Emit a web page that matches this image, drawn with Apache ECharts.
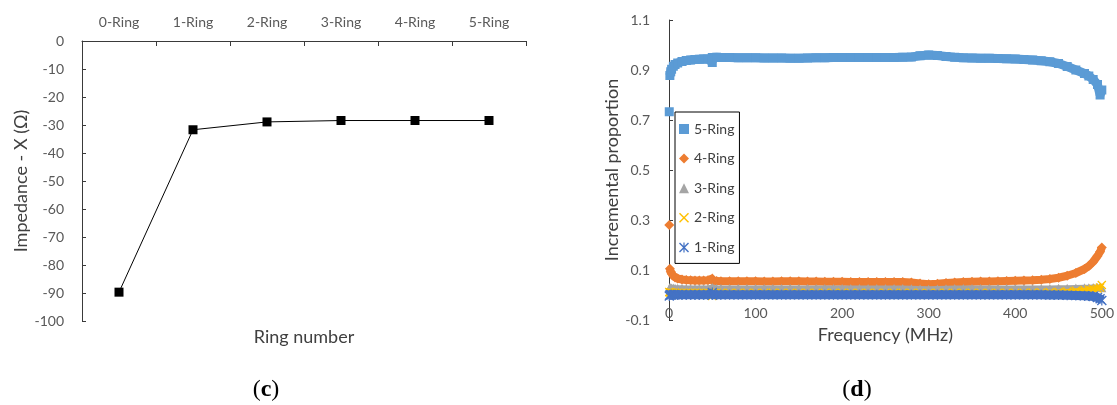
<!DOCTYPE html>
<html>
<head>
<meta charset="utf-8">
<title>Ring impedance and incremental proportion</title>
<script src="https://cdn.jsdelivr.net/npm/echarts@6/dist/echarts.min.js"></script>
<style>
  html, body { margin: 0; padding: 0; background: #ffffff; }
  #chart { width: 1117px; height: 405px; }
</style>
</head>
<body>
<div id="chart"></div>
<script>
// ---- (c) reactance versus number of rings ----
const ringLabels = ['0-Ring', '1-Ring', '2-Ring', '3-Ring', '4-Ring', '5-Ring'];
const reactance = [-89.7, -31.7, -28.9, -28.4, -28.4, -28.4];

// ---- (d) incremental proportion versus frequency ----
const xTicks = [0, 100, 200, 300, 400, 500];
const yTicks = [-0.1, 0.1, 0.3, 0.5, 0.7, 0.9, 1.1];

const freqMHz = [
  0.3, 1, 2, 3, 5, 7, 10, 15, 20, 25,
  30, 35, 40, 45, 50, 50, 55, 60, 70, 80,
  90, 100, 110, 120, 130, 140, 150, 160, 170, 180,
  190, 200, 210, 220, 230, 240, 250, 260, 270, 280,
  290, 300, 310, 320, 330, 340, 350, 360, 370, 380,
  390, 400, 410, 420, 430, 440, 450, 460, 470, 480,
  485, 490, 495, 498, 500
];

const ring5 = [
  0.733, 0.878, 0.893, 0.903, 0.915, 0.922, 0.928, 0.934, 0.938, 0.940,
  0.942, 0.943, 0.944, 0.944, 0.930, 0.950, 0.951, 0.950, 0.950, 0.949,
  0.949, 0.949, 0.948, 0.948, 0.948, 0.947, 0.947, 0.948, 0.949, 0.949,
  0.950, 0.950, 0.950, 0.950, 0.950, 0.950, 0.950, 0.950, 0.951, 0.952,
  0.957, 0.960, 0.958, 0.954, 0.951, 0.949, 0.948, 0.947, 0.947, 0.946,
  0.945, 0.944, 0.942, 0.940, 0.937, 0.933, 0.926, 0.914, 0.900, 0.886,
  0.876, 0.862, 0.842, 0.800, 0.820
];

const ring4 = [
  0.280, 0.105, 0.093, 0.085, 0.076, 0.070, 0.066, 0.062, 0.060, 0.059,
  0.058, 0.058, 0.058, 0.059, 0.066, 0.057, 0.056, 0.055, 0.055, 0.055,
  0.055, 0.055, 0.054, 0.054, 0.055, 0.055, 0.055, 0.054, 0.054, 0.053,
  0.053, 0.053, 0.052, 0.052, 0.052, 0.052, 0.052, 0.052, 0.052, 0.050,
  0.046, 0.043, 0.045, 0.048, 0.050, 0.052, 0.053, 0.054, 0.054, 0.055,
  0.056, 0.057, 0.058, 0.059, 0.061, 0.064, 0.069, 0.077, 0.088, 0.104,
  0.116, 0.133, 0.156, 0.173, 0.190
];

const ring3 = [
  0.026, 0.030, 0.029, 0.028, 0.028, 0.027, 0.027, 0.027, 0.026, 0.026,
  0.026, 0.026, 0.026, 0.026, 0.030, 0.026, 0.026, 0.026, 0.026, 0.026,
  0.026, 0.026, 0.026, 0.026, 0.026, 0.026, 0.026, 0.026, 0.026, 0.026,
  0.026, 0.026, 0.026, 0.026, 0.026, 0.026, 0.026, 0.026, 0.026, 0.025,
  0.024, 0.023, 0.024, 0.025, 0.026, 0.026, 0.026, 0.026, 0.026, 0.026,
  0.026, 0.026, 0.026, 0.026, 0.026, 0.026, 0.027, 0.027, 0.028, 0.029,
  0.029, 0.030, 0.030, 0.030, 0.029
];

const ring2 = [
  0.012, 0.010, 0.010, 0.009, 0.009, 0.009, 0.009, 0.009, 0.009, 0.009,
  0.009, 0.009, 0.009, 0.009, -0.004, 0.009, 0.009, 0.009, 0.009, 0.009,
  0.009, 0.009, 0.009, 0.009, 0.009, 0.009, 0.009, 0.009, 0.009, 0.009,
  0.009, 0.009, 0.009, 0.009, 0.009, 0.009, 0.009, 0.009, 0.009, 0.009,
  0.009, 0.008, 0.009, 0.009, 0.009, 0.009, 0.009, 0.009, 0.009, 0.009,
  0.009, 0.009, 0.009, 0.010, 0.010, 0.011, 0.012, 0.014, 0.017, 0.020,
  0.022, 0.024, 0.026, 0.030, 0.040
];

const ring1 = [
  -0.004, 0.000, 0.001, 0.001, 0.001, 0.001, 0.001, 0.001, 0.001, 0.001,
  0.001, 0.001, 0.001, 0.001, 0.010, 0.001, 0.001, 0.001, 0.001, 0.001,
  0.001, 0.001, 0.001, 0.001, 0.001, 0.001, 0.001, 0.001, 0.001, 0.001,
  0.001, 0.001, 0.001, 0.001, 0.001, 0.001, 0.001, 0.001, 0.001, 0.001,
  0.001, 0.001, 0.001, 0.001, 0.001, 0.001, 0.001, 0.001, 0.001, 0.001,
  0.001, 0.001, 0.001, 0.001, 0.001, 0.000, 0.000, -0.001, -0.002, -0.003,
  -0.004, -0.006, -0.010, -0.015, -0.022
];

// Marker shapes: a thin "x" and an asterisk ("x" with a vertical bar)
const xMark = 'path://M1,0L5,4L9,0L10,1L6,5L10,9L9,10L5,6L1,10L0,9L4,5L0,1Z';
const starMark = 'path://M1,0L5,4L9,0L10,1L6,5L10,9L9,10L5,6L1,10L0,9L4,5L0,1Z M4.4,0L5.6,0L5.6,10L4.4,10Z';

// Pair each reading with its frequency; the 0.3 MHz reading stands apart from the sweep.
function sweep(values) {
  const pts = freqMHz.map((f, i) => [f, values[i]]);
  pts.splice(1, 0, ['-', '-']);
  return pts;
}

const FONT = 'Lato, "Noto Sans", sans-serif';
const SERIF = '"Liberation Serif", serif';
const LABEL_COLOR = '#595959';
const TITLE_COLOR = '#404040';
const AXIS_COLOR = '#3a3a3a';

const ringSeries = [
  { name: '5-Ring', values: ring5, color: '#5B9BD5', symbol: 'rect', size: 9, width: 9 },
  { name: '4-Ring', values: ring4, color: '#ED7D31', symbol: 'diamond', size: 10, width: 8 },
  { name: '3-Ring', values: ring3, color: '#A5A5A5', symbol: 'triangle', size: 9, width: 6 },
  { name: '2-Ring', values: ring2, color: '#FFC000', symbol: xMark, size: 9, width: 5 },
  { name: '1-Ring', values: ring1, color: '#4472C4', symbol: starMark, size: 10, width: 9 }
];

const panelLabel = (letter, x) => ({
  type: 'text',
  style: {
    text: '{p|(}{b|' + letter + '}{p|)}',
    x: x, y: 390,
    align: 'center', verticalAlign: 'middle',
    rich: {
      p: { fontFamily: SERIF, fontSize: 24, fill: '#000000' },
      b: { fontFamily: SERIF, fontSize: 24, fontWeight: 'bold', fill: '#000000' }
    }
  }
});

const chart = echarts.init(document.getElementById('chart'), null, { renderer: 'canvas' });

chart.setOption({
  backgroundColor: '#ffffff',
  animation: false,
  textStyle: { fontFamily: FONT },
  grid: [
    { left: 82, top: 41, width: 444, height: 280 },
    { left: 669, top: 20, width: 433, height: 300 }
  ],
  xAxis: [
    {
      gridIndex: 0,
      type: 'category',
      position: 'top',
      data: ringLabels,
      boundaryGap: true,
      axisLine: { show: true, lineStyle: { color: AXIS_COLOR, width: 1 } },
      axisTick: { show: true, inside: true, length: 5, alignWithLabel: false, lineStyle: { color: AXIS_COLOR } },
      axisLabel: { color: LABEL_COLOR, fontSize: 14, fontFamily: FONT, margin: 12 },
      splitLine: { show: false }
    },
    {
      gridIndex: 1,
      type: 'value',
      min: 0,
      max: 500,
      interval: 100,
      axisLine: { show: false },
      axisTick: { show: false },
      axisLabel: {
        color: LABEL_COLOR, fontSize: 14, fontFamily: FONT, margin: -14,
        customValues: xTicks
      },
      splitLine: { show: false },
      name: 'Frequency (MHz)',
      nameLocation: 'middle',
      nameGap: 6,
      nameTextStyle: { color: TITLE_COLOR, fontSize: 18, fontFamily: FONT }
    }
  ],
  yAxis: [
    {
      gridIndex: 0,
      type: 'value',
      min: -100,
      max: 0,
      interval: 10,
      axisLine: { show: true, lineStyle: { color: AXIS_COLOR, width: 1 } },
      axisTick: { show: true, inside: true, length: 4, lineStyle: { color: AXIS_COLOR } },
      axisLabel: { color: LABEL_COLOR, fontSize: 14, fontFamily: FONT, margin: 18 },
      splitLine: { show: false },
      name: 'Impedance - X (Ω)',
      nameLocation: 'middle',
      nameGap: 51,
      nameTextStyle: { color: TITLE_COLOR, fontSize: 18, fontFamily: FONT }
    },
    {
      gridIndex: 1,
      type: 'value',
      min: -0.1,
      max: 1.1,
      interval: 0.2,
      axisLine: { show: true, lineStyle: { color: AXIS_COLOR, width: 1 } },
      axisTick: { show: true, inside: true, length: 4, lineStyle: { color: AXIS_COLOR } },
      axisLabel: {
        color: LABEL_COLOR, fontSize: 14, fontFamily: FONT, margin: 19,
        customValues: yTicks,
        formatter: v => v.toFixed(1)
      },
      splitLine: { show: false },
      name: 'Incremental proportion',
      nameLocation: 'middle',
      nameGap: 46,
      nameTextStyle: { color: TITLE_COLOR, fontSize: 18, fontFamily: FONT }
    }
  ],
  legend: {
    data: ringSeries.map(s => ({ name: s.name, icon: s.symbol })),
    orient: 'vertical',
    left: 675,
    top: 112,
    padding: [10, 5, 9, 4],
    itemGap: 15.6,
    itemWidth: 10,
    itemHeight: 10,
    selectedMode: false,
    backgroundColor: '#ffffff',
    borderColor: '#000000',
    borderWidth: 1,
    textStyle: { color: TITLE_COLOR, fontSize: 14, fontFamily: FONT, lineHeight: 10 }
  },
  series: [
    {
      name: 'Reactance',
      type: 'line',
      xAxisIndex: 0,
      yAxisIndex: 0,
      data: reactance,
      symbol: 'rect',
      symbolSize: 9,
      itemStyle: { color: '#000000' },
      lineStyle: { color: '#000000', width: 1 },
      z: 3
    },
    ...ringSeries.map((s, k) => ({
      name: s.name,
      type: 'line',
      xAxisIndex: 1,
      yAxisIndex: 1,
      data: sweep(s.values),
      connectNulls: false,
      showSymbol: true,
      showAllSymbol: true,
      symbol: s.symbol,
      symbolSize: s.size,
      itemStyle: { color: s.color },
      lineStyle: { color: s.color, width: s.width },
      z: 2 + k * 0.1
    }))
  ],
  graphic: [
    {
      type: 'text',
      style: {
        text: 'Ring number',
        x: 304, y: 337,
        align: 'center', verticalAlign: 'middle',
        fill: TITLE_COLOR,
        font: '18px ' + FONT
      }
    },
    panelLabel('c', 266),
    panelLabel('d', 857)
  ]
});
</script>
</body>
</html>
